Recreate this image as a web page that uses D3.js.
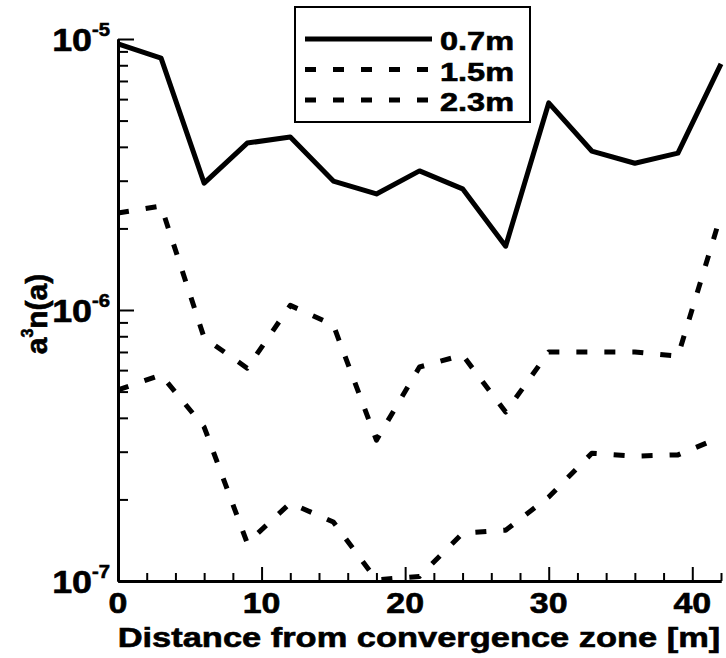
<!DOCTYPE html>
<html>
<head>
<meta charset="utf-8">
<script src="https://cdn.jsdelivr.net/npm/d3@7"></script>
<style>
    body { margin: 0; background: #fff; }
    svg { display: block; font-family: "Liberation Sans", Arial, sans-serif; font-weight: bold; }
    svg text { stroke: #000; stroke-width: 0.6px; }
</style>
</head>
<body>
<svg id="chart" width="726" height="658"></svg>
<script>
const distance = [0, 3, 6, 9, 12, 15, 18, 21, 24, 27, 30, 33, 36, 39, 42]
const depth07 = [9.6e-6, 8.5e-6, 2.94e-6, 4.13e-6, 4.35e-6, 2.99e-6, 2.68e-6, 3.26e-6, 2.80e-6, 1.72e-6, 5.81e-6, 3.86e-6, 3.48e-6, 3.79e-6, 8.09e-6]
const depth15 = [2.28e-6, 2.42e-6, 7.9e-7, 6.1e-7, 1.04e-6, 8.8e-7, 3.31e-7, 6.16e-7, 6.82e-7, 4.2e-7, 7.0e-7, 7.0e-7, 7.0e-7, 6.76e-7, 2.25e-6]
const depth23 = [5.07e-7, 5.76e-7, 3.70e-7, 1.38e-7, 1.94e-7, 1.65e-7, 1.01e-7, 1.04e-7, 1.50e-7, 1.54e-7, 2.04e-7, 2.96e-7, 2.89e-7, 2.92e-7, 3.40e-7]
const seriesNames = ["0.7m", "1.5m", "2.3m"]
const xMajor = [0, 10, 20, 30, 40]
const yMajor = [1e-7, 1e-6, 1e-5]
const yExponents = ["-7", "-6", "-5"]

const svg = d3.select("#chart")

const x = d3.scaleLinear().domain([0, 42]).range([118, 721])
const y = d3.scaleLog().domain([1e-7, 1e-5]).range([581, 39])

const xMinor = d3.range(0, 43, 2).filter(d => d % 10 !== 0)
const yMinor = []
for (let e = -7; e < -5; e++) {
    for (let m = 2; m <= 9; m++) yMinor.push(m * Math.pow(10, e))
}

// x axis
const xAxisG = svg.append("g").attr("transform", `translate(0, ${y.range()[0]})`)
xAxisG.call(d3.axisBottom(x).tickValues(xMinor).tickSize(-8).tickSizeOuter(0).tickFormat(""))
xAxisG.append("g").call(d3.axisBottom(x).tickValues(xMajor).tickSize(-14).tickSizeOuter(0).tickFormat(""))
xAxisG.selectAll("path.domain").attr("stroke-width", 3)
xAxisG.selectAll(".tick line").attr("stroke-width", 2)
xAxisG.selectAll("text").remove()

svg.append("g")
    .selectAll("text")
    .data(xMajor)
    .join("text")
    .attr("transform", d => `translate(${x(d)}, 613) scale(1.17, 1)`)
    .attr("text-anchor", "middle")
    .attr("font-size", 29)
    .text(d => d)

// y axis
const yAxisG = svg.append("g").attr("transform", `translate(${x.range()[0]}, 0)`)
yAxisG.call(d3.axisLeft(y).tickValues(yMinor).tickSize(-10).tickSizeOuter(0).tickFormat(""))
yAxisG.append("g").call(d3.axisLeft(y).tickValues(yMajor).tickSize(-16).tickSizeOuter(0).tickFormat(""))
yAxisG.selectAll("path.domain").attr("stroke-width", 3)
yAxisG.selectAll(".tick line").attr("stroke-width", 2)
yAxisG.selectAll("text").remove()

const yLabels = svg.append("g")
    .selectAll("g")
    .data(yMajor)
    .join("g")
    .attr("transform", d => `translate(110, ${y(d) + 12}) scale(1.12, 1)`)
const yText = yLabels.append("text").attr("text-anchor", "end").attr("font-size", 32)
yText.append("tspan").text("10")
yText.append("tspan").attr("dy", -15).attr("font-size", 18).text((d, i) => yExponents[i])

// axis titles
svg.append("text")
    .attr("transform", `translate(419, 647) scale(1.23, 1)`)
    .attr("text-anchor", "middle")
    .attr("font-size", 28)
    .text("Distance from convergence zone [m]")

const yTitle = svg.append("text")
    .attr("transform", "translate(47, 314) rotate(-90)")
    .attr("text-anchor", "middle")
    .attr("font-size", 30)
yTitle.append("tspan").text("a")
yTitle.append("tspan").attr("dy", -14).attr("font-size", 16).text("3")
yTitle.append("tspan").attr("dy", 14).text("n(a)")

// lines
const line = d3.line()
    .x((d, i) => x(distance[i]))
    .y(d => y(d))

const dashes = [null, "11,17", "11,17"]
const allSeries = [depth07, depth15, depth23]

svg.append("g")
    .selectAll("path")
    .data(allSeries)
    .join("path")
    .attr("d", line)
    .attr("fill", "none")
    .attr("stroke", "#000")
    .attr("stroke-width", 5)
    .attr("stroke-linejoin", "round")
    .attr("stroke-dasharray", (d, i) => dashes[i])

// legend
const legend = svg.append("g")
legend.append("rect")
    .attr("x", 295).attr("y", 7)
    .attr("width", 235).attr("height", 115)
    .attr("fill", "#fff").attr("stroke", "#000").attr("stroke-width", 2)

const rows = legend.selectAll("g.row")
    .data(seriesNames)
    .join("g")
    .attr("class", "row")
    .attr("transform", (d, i) => `translate(0, ${39 + i * 30.5})`)

rows.append("line")
    .attr("x1", 305).attr("x2", 432)
    .attr("stroke", "#000").attr("stroke-width", 5)
    .attr("stroke-dasharray", (d, i) => dashes[i])

rows.append("text")
    .attr("transform", "translate(440, 11) scale(1.3, 1)")
    .attr("font-size", 25)
    .text(d => d)
</script>
</body>
</html>
